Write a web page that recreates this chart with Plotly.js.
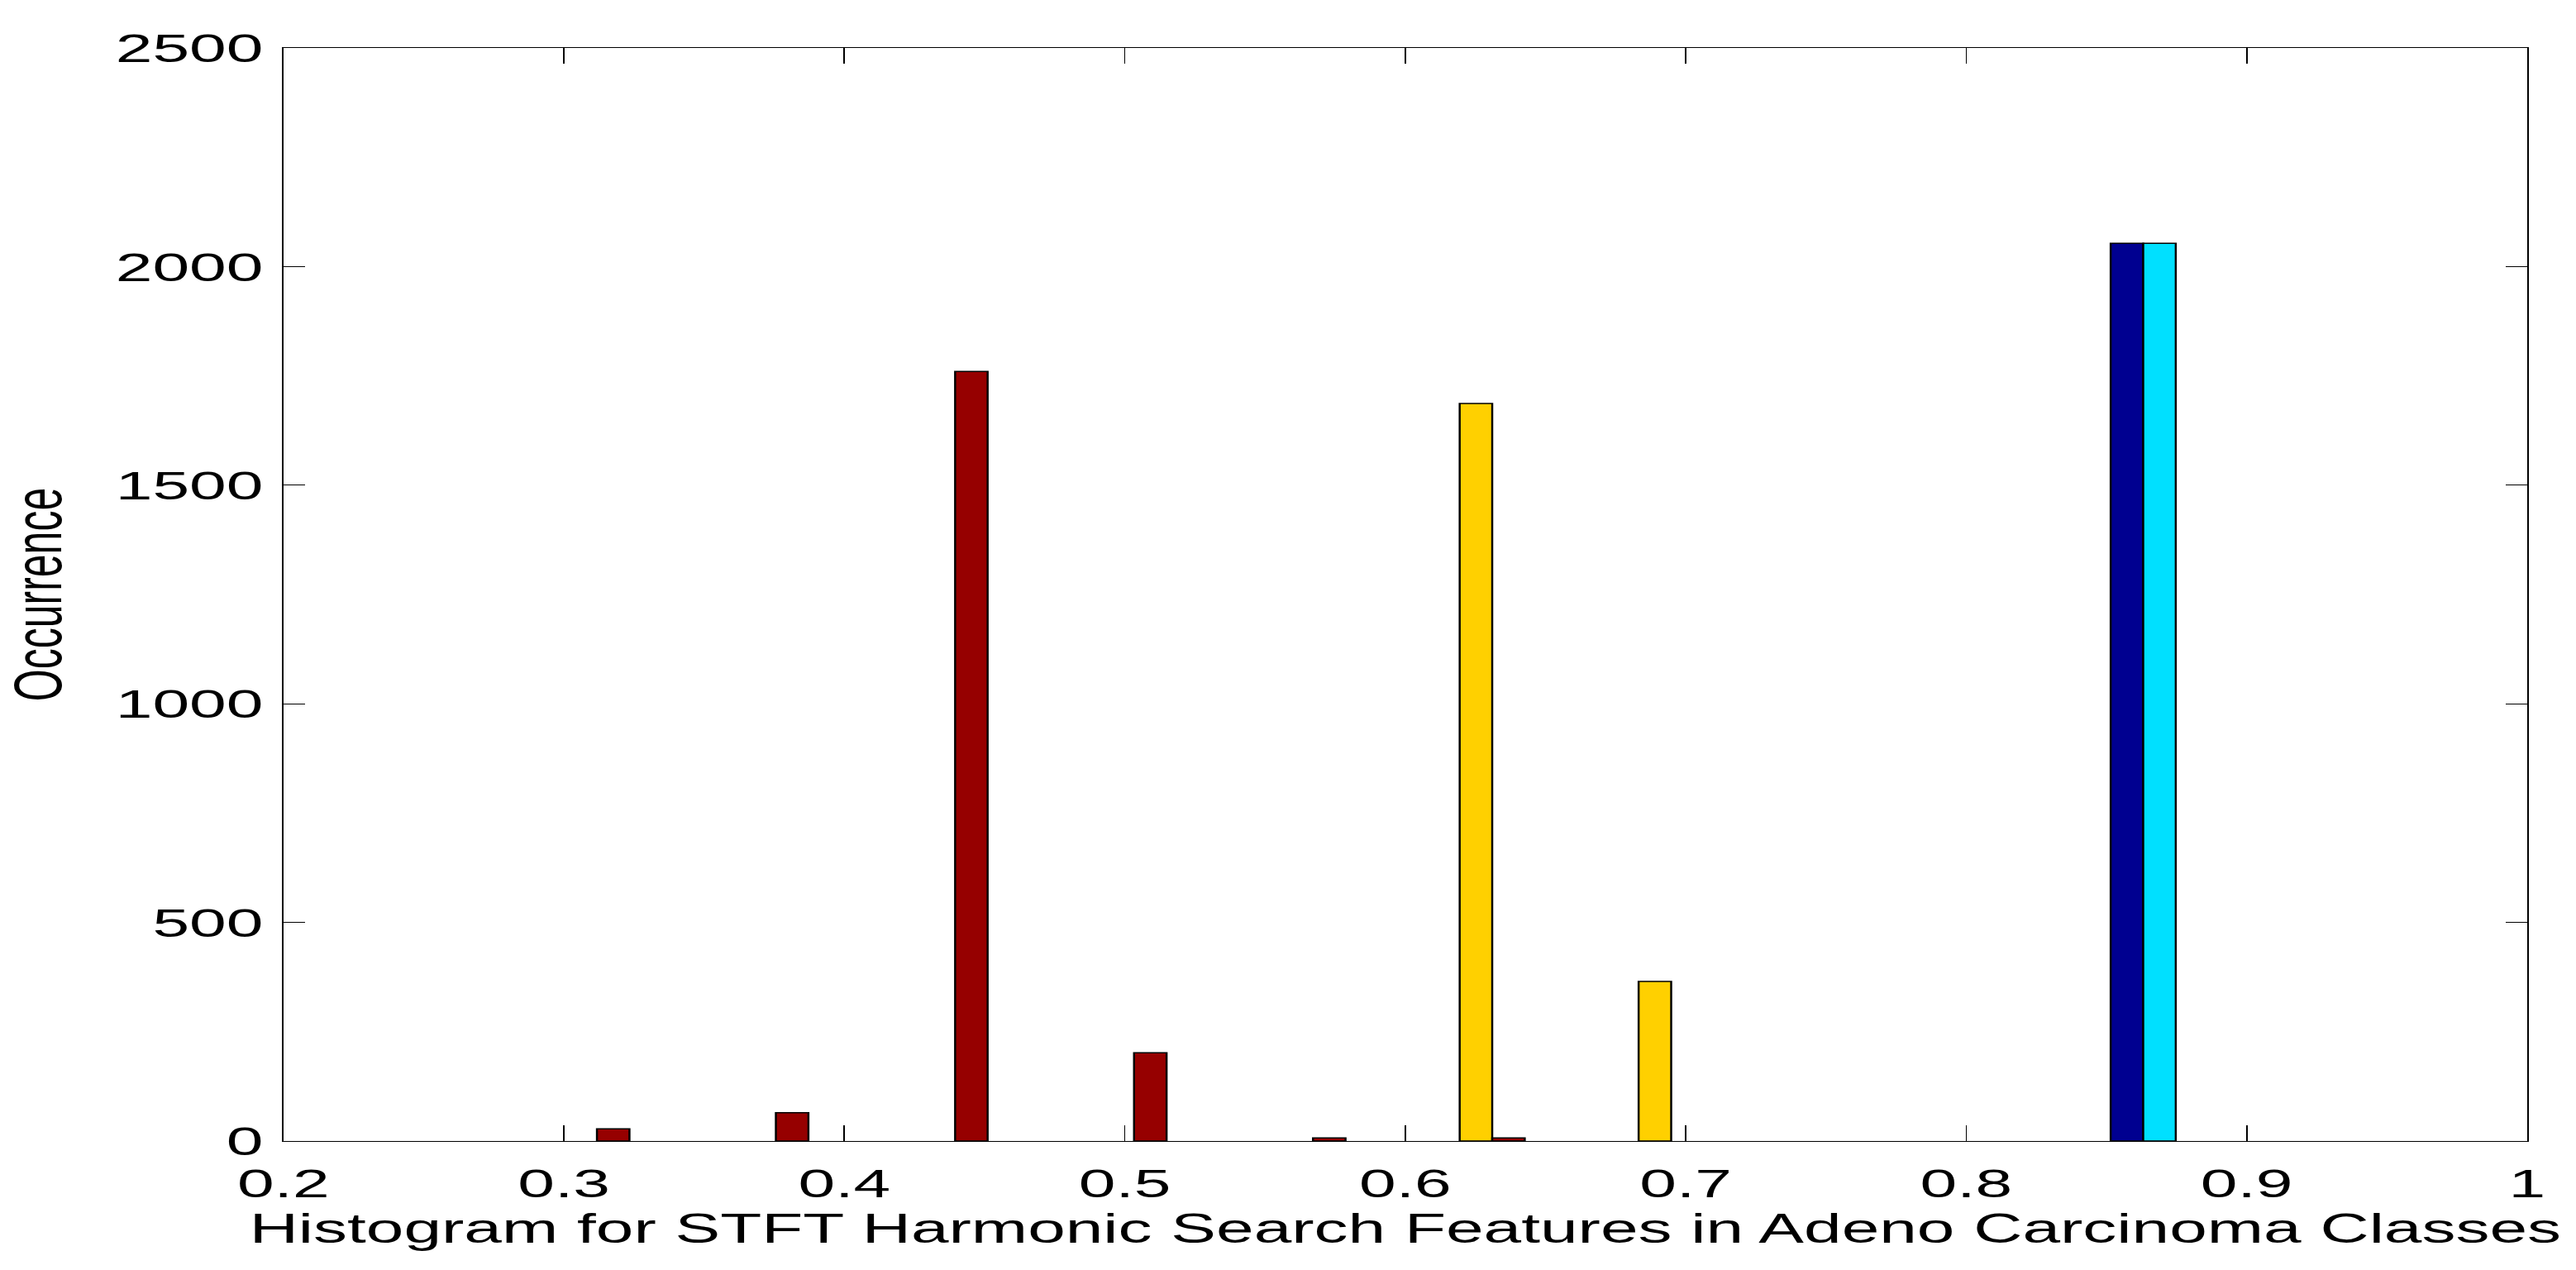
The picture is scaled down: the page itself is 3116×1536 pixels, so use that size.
<!DOCTYPE html>
<html>
<head>
<meta charset="utf-8">
<script src="https://cdn.plot.ly/plotly-3.0.1.min.js"></script>
<style>
html, body { margin: 0; padding: 0; background: #ffffff; overflow: hidden; width: 3116px; height: 1536px; }
#wrap { width: 3116px; height: 1536px; overflow: hidden; position: relative; }
#chart { width: 1900px; height: 1536px; transform-origin: 0 0; }
</style>
</head>
<body>
<div id="wrap"><div id="chart"></div></div>
<script>
// ---- data ----
const binCenters = [0.3002, 0.3640, 0.4279, 0.4917, 0.5555, 0.6194, 0.6832, 0.7470, 0.8108, 0.8747];
const class1Counts = [0, 0, 0, 0, 0, 0, 0, 0, 0, 2053];     // dark blue
const class2Counts = [0, 0, 0, 0, 0, 0, 0, 0, 0, 2053];     // cyan
const class3Counts = [0, 0, 0, 0, 0, 1687, 365, 0, 0, 0];   // yellow
const class4Counts = [28, 65, 1760, 202, 7, 7, 0, 0, 0, 0]; // dark red
const yTickVals = [0, 500, 1000, 1500, 2000, 2500];
const xTickVals = [0.2, 0.3, 0.4, 0.5, 0.6, 0.7, 0.8, 0.9, 1];
const xTickText = ['0.2', '0.3', '0.4', '0.5', '0.6', '0.7', '0.8', '0.9', '1'];
const xTitle = 'Histogram for STFT Harmonic Search Features in Adeno Carcinoma Classes';
const yTitle = 'Occurrence';

// ---- rendering ----
const W = 1900;               // drawn width, then stretched to the page width
const S = 3116 / W;
document.getElementById('chart').style.transform = 'scaleX(' + S + ')';

const FONT = 'Liberation Sans, Arial, Helvetica, sans-serif';
const series = [
  {y: class1Counts, color: '#000090'},
  {y: class2Counts, color: '#00E0FF'},
  {y: class3Counts, color: '#FFD000'},
  {y: class4Counts, color: '#960000'}
];
// empty bins are left undrawn (null), as in the reference
const traces = series.map(s => ({
  type: 'bar',
  x: binCenters,
  y: s.y.map(v => (v === 0 ? null : v)),
  marker: {color: s.color, line: {color: '#000000', width: 1.5}},
  showlegend: false,
  hoverinfo: 'skip'
}));

const layout = {
  width: W,
  height: 1536,
  paper_bgcolor: '#ffffff',
  plot_bgcolor: '#ffffff',
  barmode: 'group',
  bargap: 1 - 4 / 5.5,
  bargroupgap: 0,
  showlegend: false,
  margin: {l: 343 / S, r: W - 3057 / S, t: 57.5, b: 156, pad: 0},
  font: {family: FONT, size: 49, color: '#000000'},
  xaxis: {
    range: [0.2, 1],
    tickmode: 'array',
    tickvals: xTickVals,
    ticktext: xTickText,
    ticks: 'inside',
    ticklen: 19,
    tickwidth: 1,
    tickcolor: '#000000',
    showline: true,
    linecolor: '#000000',
    linewidth: 1.3,
    mirror: 'ticks',
    showgrid: false,
    zeroline: false,
    ticklabelstandoff: 8,
    tickfont: {family: FONT, size: 49, color: '#000000'},
    title: {text: xTitle, font: {family: FONT, size: 50, color: '#000000'}, standoff: 10},
    automargin: false
  },
  yaxis: {
    range: [0, 2500],
    tickmode: 'array',
    tickvals: yTickVals,
    ticks: 'inside',
    ticklen: 16,
    tickwidth: 1,
    tickcolor: '#000000',
    showline: true,
    linecolor: '#000000',
    linewidth: 1,
    mirror: 'ticks',
    showgrid: false,
    zeroline: false,
    ticklabelstandoff: 4,
    tickfont: {family: FONT, size: 49, color: '#000000'},
    title: {text: yTitle, font: {family: FONT, size: 50, color: '#000000'}, standoff: 62},
    automargin: false
  }
};

Plotly.newPlot('chart', traces, layout, {staticPlot: true, displayModeBar: false, responsive: false});
</script>
</body>
</html>
